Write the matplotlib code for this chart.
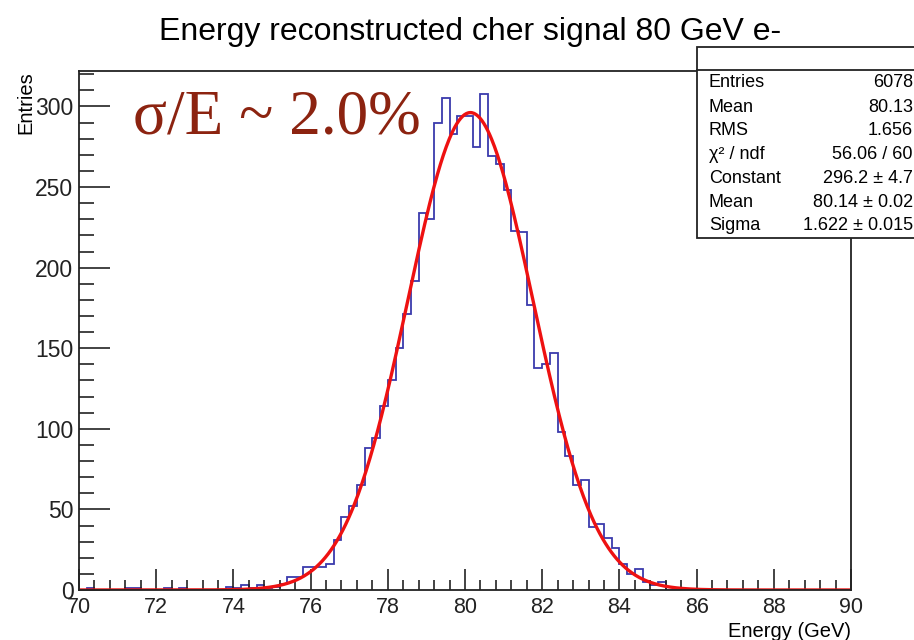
import numpy as np
import matplotlib
matplotlib.use("Agg")
import matplotlib.pyplot as plt
from matplotlib.ticker import MultipleLocator
from matplotlib.patches import Rectangle
from matplotlib.lines import Line2D

# histogram: 100 bins of 0.2 GeV between 70 and 90
bin_lo = 70.0
bin_hi = 90.0
n_bins = 100
counts = [
    0, 1, 0, 0, 0, 0, 1, 1, 0, 0,            # 70.0 - 71.8
    0, 1, 0, 1, 0, 0, 0, 0, 0, 2,            # 72.0 - 73.8
    1, 3, 1, 3, 1, 2, 4, 8, 8, 14,           # 74.0 - 75.8
    14, 14, 16, 31, 45, 52, 65, 88, 94, 114,  # 76.0 - 77.8
    130, 150, 171, 192, 234, 230, 290, 305, 283, 294,  # 78.0 - 79.8
    294, 275, 308, 269, 264, 248, 223, 222, 177, 138,  # 80.0 - 81.8
    140, 147, 98, 83, 65, 68, 39, 41, 32, 26,  # 82.0 - 83.8
    16, 10, 13, 5, 3, 5, 0, 0, 0, 0,         # 84.0 - 85.8
    0, 0, 0, 0, 0, 0, 0, 0, 0, 0,            # 86.0 - 87.8
    0, 0, 0, 0, 0, 0, 0, 0, 0, 0,            # 88.0 - 89.8
]

# gaussian fit result
fit_const = 296.2
fit_mean = 80.14
fit_sigma = 1.622

stat_labels = ["Entries", "Mean", "RMS", "\u03c7\u00b2 / ndf", "Constant", "Mean", "Sigma"]
stat_values = ["6078", "80.13", "1.656", "56.06 / 60", "296.2 \u00b1 4.7",
               "80.14 \u00b1 0.02", "1.622 \u00b1 0.015"]

plt.rcParams["font.family"] = ["Liberation Sans", "DejaVu Sans"]

fig = plt.figure(figsize=(9.14, 6.40), dpi=100)
ax = fig.add_axes([79 / 914, 50 / 640, (851 - 79) / 914, (590 - 71) / 640])

edges = np.linspace(bin_lo, bin_hi, n_bins + 1)
ax.stairs(counts, edges, color="#3a3aad", linewidth=1.3, baseline=0)

xf = np.linspace(bin_lo, bin_hi, 800)
yf = fit_const * np.exp(-0.5 * ((xf - fit_mean) / fit_sigma) ** 2)
ax.plot(xf, yf, color="#ee1111", linewidth=2.4)

ax.set_xlim(bin_lo, bin_hi)
ax.set_ylim(0, 322)

ax.xaxis.set_major_locator(MultipleLocator(2))
ax.xaxis.set_minor_locator(MultipleLocator(0.4))
ax.yaxis.set_major_locator(MultipleLocator(50))
ax.yaxis.set_minor_locator(MultipleLocator(10))
ax.tick_params(axis="both", which="both", direction="in", colors="#222222",
               width=1.2)
ax.tick_params(axis="x", which="major", length=15, pad=5, labelsize=15.5)
ax.tick_params(axis="x", which="minor", length=7.5)
ax.tick_params(axis="y", which="major", length=22, pad=4, labelsize=16.5)
ax.tick_params(axis="y", which="minor", length=11)
for sp in ax.spines.values():
    sp.set_linewidth(1.3)
    sp.set_color("#222222")

ax.set_xlabel("Energy (GeV)", fontsize=14.5, loc="right", labelpad=3)
ax.set_ylabel("Entries", fontsize=14.5, loc="top", labelpad=0)

fig.text(470 / 914, 1 - 32 / 640, "Energy reconstructed cher signal 80 GeV e-",
         ha="center", va="center", fontsize=23)

ax.text(133 / 914, 1 - 133 / 640, "\u03c3/E ~ 2.0%", transform=fig.transFigure,
        family="Liberation Serif", fontsize=45.5, color="#8c2310",
        ha="left", va="baseline")

# stats box
bx0, bx1 = 697 / 914, 1.01
by_top, by_bot = 1 - 47 / 640, 1 - 238 / 640
fig.patches.append(Rectangle((bx0, by_bot), bx1 - bx0, by_top - by_bot,
                             transform=fig.transFigure, facecolor="white",
                             edgecolor="#222222", linewidth=1.3, zorder=5))
fig.lines.append(Line2D([bx0, bx1], [1 - 70 / 640, 1 - 70 / 640],
                        transform=fig.transFigure, color="#222222",
                        linewidth=1.3, zorder=6))
row_y = [82.7, 107.5, 130.7, 154.5, 178.3, 202.5, 225.0]
for lab, val, yy in zip(stat_labels, stat_values, row_y):
    fig.text(709 / 914, 1 - yy / 640, lab, ha="left", va="center",
             fontsize=13, zorder=7)
    fig.text(913 / 914, 1 - yy / 640, val, ha="right", va="center",
             fontsize=13, zorder=7)

fig.savefig("out.png", dpi=100)
